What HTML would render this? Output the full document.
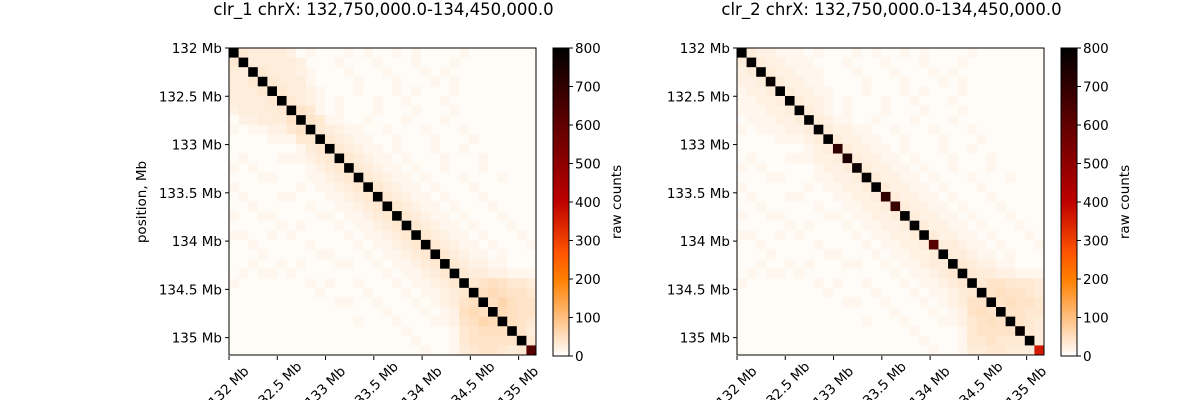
<!DOCTYPE html>
<html><head><meta charset="utf-8"><style>
html,body{margin:0;padding:0;background:#fff;}
svg{display:block;font-family:"DejaVu Sans","Liberation Sans",sans-serif;}
</style></head><body>
<svg id="fig" width="1200" height="400" xmlns="http://www.w3.org/2000/svg"></svg>
<script>
// ---- data ----
const titles = ["clr_1 chrX: 132,750,000.0-134,450,000.0", "clr_2 chrX: 132,750,000.0-134,450,000.0"];
const yTickLabels = ["132 Mb","132.5 Mb","133 Mb","133.5 Mb","134 Mb","134.5 Mb","135 Mb"];
const yTickValues = [132,132.5,133,133.5,134,134.5,135];
const cbTicks = [0,100,200,300,400,500,600,700,800];
const diag1 = [900,900,900,900,900,900,900,900,900,900,900,900,900,900,900,900,900,900,900,900,900,900,900,900,900,900,900,900,900,900,900,615];
const diag2 = [850,790,830,780,840,850,830,840,800,850,700,740,780,820,840,700,680,830,840,850,620,830,840,820,850,840,860,850,840,780,850,360];
// upper-triangle off-diagonal levels per row (digit * 7 = raw counts)
const upper1 = ["5444431211121211212111121111111","444443111211121112111211111111","54443211121112111212111111111","5444211112111211121211111111","544321112111212111211111111","54321211121121112111111111","6521211121112111211111111","652211211121112111111111","54322112111211121111111","5432211211121112111111","543221211121121111111","54322121112111211111","5432212112111211111","543221211121112111","54322121112111111","5432212111211111","543221211121111","54322121112111","5432212111211","543221211121","54322121112","5432212111","543322111","54433222","5676554","787665","79766","8766","765","64","5"];
const upper2 = ["4332221211121211212111121111111","433222111211121112111211111111","43322211121112111212111111111","4332211112111211121211111111","433221112111212111211111111","43321211121121112111111111","4321211121112111211111111","432211211121112111111111","43322112111211121111111","4332211211121112111111","433221211121121111111","43322121112111211111","4332212112111211111","433221211121112111","43322121112111111","4332212111211111","433221211121111","43322121112111","4332212111211","433221211121","44322121112","4432212111","543322111","54433222","5665554","676654","67665","6655","654","54","4"];
const N = 32, yMin = 132.0, yMax = 135.18;

const NS="http://www.w3.org/2000/svg";
const svg=document.getElementById('fig');
function mk(tag,attrs,parent){const e=document.createElementNS(NS,tag);for(const k in attrs)e.setAttribute(k,attrs[k]);(parent||svg).appendChild(e);return e;}
function cmap(v){let t=1-Math.min(Math.max(v/800,0),1);
  const r=Math.min(1,1.5*t),g=Math.max(0,Math.min(1,2*t-1)),b=Math.max(0,Math.min(1,4*t-3));
  return `rgb(${Math.round(r*255)},${Math.round(g*255)},${Math.round(b*255)})`;}

function panel(px,titleText,diag,upper,showYLabel){
  const x0=px, x1=px+307, y0=48, y1=356, size=307;
  const g=mk('g',{});
  
  
  const cell=size/N;
  const pos=v=>(v-yMin)/(yMax-yMin)*size;
  for(let i=0;i<N;i++)for(let j=0;j<N;j++){
    let v;
    if(i===j)v=diag[i];
    else{const a=Math.min(i,j),b=Math.max(i,j);v=parseInt(upper[a][b-a-1])*7;}
    const r=mk('rect',{x:x0+j*cell,y:y0+i*cell,width:cell+0.4,height:cell+0.4,fill:cmap(v)},g);
    
    
  }
  const fr=mk('rect',{x:x0,y:y0,width:size,height:size,fill:'none',stroke:'#000','stroke-width':1},g);
  
  
  const t=mk('text',{x:x0+size/2+1,y:15,'text-anchor':'middle','font-size':16.5,fill:'#000'},g);
  t.textContent=titleText;
  
  
  yTickValues.forEach((v,k)=>{
    const yy=y0+pos(v);
    mk('line',{x1:x0-4,x2:x0,y1:yy,y2:yy,stroke:'#000'},g);
    const l=mk('text',{x:x0-7,y:yy+5,'text-anchor':'end','font-size':13.5},g);
    l.textContent=yTickLabels[k];
    
    
    const xx=x0+pos(v);
    mk('line',{x1:xx,x2:xx,y1:y1,y2:y1+4,stroke:'#000'},g);
    const xl=mk('text',{'text-anchor':'middle','dominant-baseline':'central','font-size':13.5,transform:`translate(${xx},387) rotate(-45)`},g);
    xl.textContent=yTickLabels[k];
    
    
  });
  if(showYLabel){
    const yl=mk('text',{'text-anchor':'middle','font-size':13.5,transform:`translate(146,202) rotate(-90)`},g);
    yl.textContent='position, Mb';
    
    
  }
  // colorbar
  const cx=x0+324, cw=16;
  const cb=mk('g',{},g);
  
  
  for(let k=0;k<154;k++){
    const v=800*(1-(k+0.5)/154);
    mk('rect',{x:cx,y:y0+k*2,width:cw,height:2.2,fill:cmap(v)},cb);
  }
  mk('rect',{x:cx,y:y0,width:cw,height:size+1,fill:'none',stroke:'#000','stroke-width':1},cb);
  cbTicks.forEach(v=>{
    const yy=y1-v/800*(size+1);
    mk('line',{x1:cx+cw,x2:cx+cw+4,y1:yy,y2:yy,stroke:'#000'},cb);
    const l=mk('text',{x:cx+cw+6,y:yy+5,'font-size':13.5},cb);
    l.textContent=String(v);
    
    
  });
  const cl=mk('text',{'text-anchor':'middle','font-size':13.5,transform:`translate(${cx+68},202) rotate(-90)`},cb);
  cl.textContent='raw counts';
  
  
}
panel(229,titles[0],diag1,upper1,true);
panel(737,titles[1],diag2,upper2,false);
</script>
</body></html>
